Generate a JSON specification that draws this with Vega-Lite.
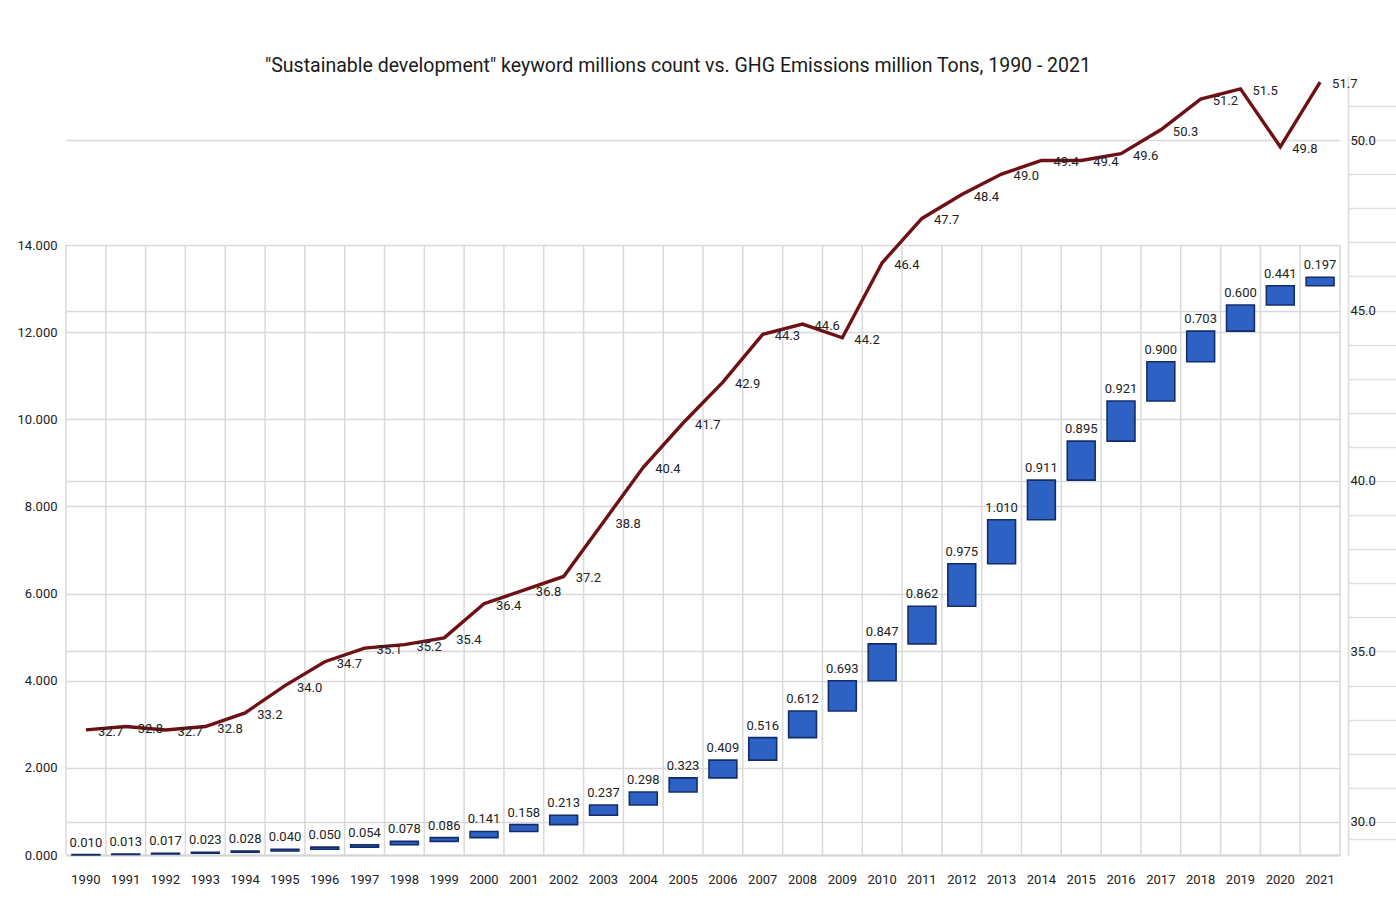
{
  "$schema": "https://vega.github.io/schema/vega-lite/v6.json",
  "width": 1274,
  "height": 779,
  "autosize": {"type": "none"},
  "padding": {"left": 66, "top": 76, "right": 56, "bottom": 43},
  "background": "white",
  "config": {
    "font": "Roboto",
    "view": {"stroke": null},
    "text": {"font": "Roboto"}
  },
  "title": {
    "text": "\"Sustainable development\" keyword millions count vs. GHG Emissions million Tons, 1990 - 2021",
    "font": "Roboto",
    "fontSize": 19.5,
    "fontWeight": "normal",
    "color": "#1a1a1a",
    "anchor": "middle",
    "dx": -25,
    "offset": -1
  },
  "data": {
    "values": [
      {"year": "1990", "inc": 0.010, "prev": 0.000, "total": 0.010, "ghg": 32.7},
      {"year": "1991", "inc": 0.013, "prev": 0.010, "total": 0.023, "ghg": 32.8},
      {"year": "1992", "inc": 0.017, "prev": 0.023, "total": 0.040, "ghg": 32.7},
      {"year": "1993", "inc": 0.023, "prev": 0.040, "total": 0.063, "ghg": 32.8},
      {"year": "1994", "inc": 0.028, "prev": 0.063, "total": 0.091, "ghg": 33.2},
      {"year": "1995", "inc": 0.040, "prev": 0.091, "total": 0.131, "ghg": 34.0},
      {"year": "1996", "inc": 0.050, "prev": 0.131, "total": 0.181, "ghg": 34.7},
      {"year": "1997", "inc": 0.054, "prev": 0.181, "total": 0.235, "ghg": 35.1},
      {"year": "1998", "inc": 0.078, "prev": 0.235, "total": 0.313, "ghg": 35.2},
      {"year": "1999", "inc": 0.086, "prev": 0.313, "total": 0.399, "ghg": 35.4},
      {"year": "2000", "inc": 0.141, "prev": 0.399, "total": 0.540, "ghg": 36.4},
      {"year": "2001", "inc": 0.158, "prev": 0.540, "total": 0.698, "ghg": 36.8},
      {"year": "2002", "inc": 0.213, "prev": 0.698, "total": 0.911, "ghg": 37.2},
      {"year": "2003", "inc": 0.237, "prev": 0.911, "total": 1.148, "ghg": 38.8},
      {"year": "2004", "inc": 0.298, "prev": 1.148, "total": 1.446, "ghg": 40.4},
      {"year": "2005", "inc": 0.323, "prev": 1.446, "total": 1.769, "ghg": 41.7},
      {"year": "2006", "inc": 0.409, "prev": 1.769, "total": 2.178, "ghg": 42.9},
      {"year": "2007", "inc": 0.516, "prev": 2.178, "total": 2.694, "ghg": 44.3},
      {"year": "2008", "inc": 0.612, "prev": 2.694, "total": 3.306, "ghg": 44.6},
      {"year": "2009", "inc": 0.693, "prev": 3.306, "total": 3.999, "ghg": 44.2},
      {"year": "2010", "inc": 0.847, "prev": 3.999, "total": 4.846, "ghg": 46.4},
      {"year": "2011", "inc": 0.862, "prev": 4.846, "total": 5.708, "ghg": 47.7},
      {"year": "2012", "inc": 0.975, "prev": 5.708, "total": 6.683, "ghg": 48.4},
      {"year": "2013", "inc": 1.010, "prev": 6.683, "total": 7.693, "ghg": 49.0},
      {"year": "2014", "inc": 0.911, "prev": 7.693, "total": 8.604, "ghg": 49.4},
      {"year": "2015", "inc": 0.895, "prev": 8.604, "total": 9.499, "ghg": 49.4},
      {"year": "2016", "inc": 0.921, "prev": 9.499, "total": 10.420, "ghg": 49.6},
      {"year": "2017", "inc": 0.900, "prev": 10.420, "total": 11.320, "ghg": 50.3},
      {"year": "2018", "inc": 0.703, "prev": 11.320, "total": 12.023, "ghg": 51.2},
      {"year": "2019", "inc": 0.600, "prev": 12.023, "total": 12.623, "ghg": 51.5},
      {"year": "2020", "inc": 0.441, "prev": 12.623, "total": 13.064, "ghg": 49.8},
      {"year": "2021", "inc": 0.197, "prev": 13.064, "total": 13.261, "ghg": 51.7}
    ]
  },
  "layer": [
    {
      "layer": [
        {
          "mark": {"type": "bar", "width": {"band": 0.7}, "fill": "#2d62c4", "stroke": "#142d6a", "strokeWidth": 1.6},
          "encoding": {
            "x": {
              "field": "year",
              "type": "ordinal",
              "scale": {"paddingInner": 0, "paddingOuter": 0},
              "axis": {
                "title": null,
                "labelAngle": 0,
                "ticks": false,
                "labelPadding": 18,
                "labelFontSize": 13,
                "labelColor": "#222222",
                "domainColor": "#d4d4d4",
                "domainWidth": 2,
                "grid": false
              }
            },
            "y": {
              "field": "prev",
              "type": "quantitative",
              "scale": {"domain": [0, 17.879], "nice": false},
              "axis": {
                "title": null,
                "values": [0, 2, 4, 6, 8, 10, 12, 14],
                "format": ".3f",
                "grid": true,
                "gridColor": "#d9d9d9",
                "gridWidth": 1.5,
                "domain": false,
                "ticks": false,
                "labelPadding": 9,
                "labelFontSize": 13,
                "labelColor": "#222222"
              }
            },
            "y2": {"field": "total"}
          }
        },
        {
          "mark": {"type": "rule", "color": "#d9d9d9", "strokeWidth": 1.5},
          "encoding": {
            "x": {"field": "year", "type": "ordinal", "bandPosition": 0},
            "y": {"datum": 0, "type": "quantitative"},
            "y2": {"datum": 14}
          }
        },
        {
          "transform": [{"filter": "datum.year === '2021'"}],
          "mark": {"type": "rule", "color": "#d9d9d9", "strokeWidth": 1.5},
          "encoding": {
            "x": {"field": "year", "type": "ordinal", "bandPosition": 1},
            "y": {"datum": 0, "type": "quantitative"},
            "y2": {"datum": 14}
          }
        },
        {
          "mark": {"type": "text", "baseline": "bottom", "dy": -5, "fontSize": 13, "color": "#222222"},
          "encoding": {
            "x": {"field": "year", "type": "ordinal"},
            "y": {"field": "total", "type": "quantitative"},
            "text": {"field": "inc", "type": "quantitative", "format": ".3f"}
          }
        }
      ]
    },
    {
      "layer": [
        {
          "mark": {"type": "line", "color": "#6e1014", "strokeWidth": 3.4},
          "encoding": {
            "x": {"field": "year", "type": "ordinal"},
            "y": {
              "field": "ghg",
              "type": "quantitative",
              "scale": {"domain": [29.032, 51.877], "nice": false, "zero": false},
              "axis": {
                "title": null,
                "orient": "right",
                "values": [29.5, 30, 31, 32, 33, 34, 35, 36, 37, 38, 39, 40, 41, 42, 43, 44, 45, 46, 47, 48, 49, 50, 51],
                "tickCount": 60,
                "labelExpr": "datum.value % 5 === 0 ? format(datum.value, '.1f') : ''",
                "labelOverlap": false,
                "labelBound": false,
                "grid": true,
                "gridColor": "#d9d9d9",
                "gridWidth": 1.5,
                "gridOpacity": {"condition": {"test": "datum.value % 5 === 0", "value": 1}, "value": 0},
                "offset": 8,
                "domainColor": "#dcdcdc",
                "domainWidth": 1.5,
                "tickSize": 48,
                "tickColor": "#e0e0e0",
                "tickWidth": 1.5,
                "labelPadding": -46,
                "labelFontSize": 13,
                "labelColor": "#222222"
              }
            }
          }
        },
        {
          "mark": {"type": "text", "align": "left", "baseline": "middle", "dx": 12, "dy": 2, "fontSize": 13, "color": "#222222"},
          "encoding": {
            "x": {"field": "year", "type": "ordinal"},
            "y": {"field": "ghg", "type": "quantitative"},
            "text": {"field": "ghg", "type": "quantitative", "format": ".1f"}
          }
        }
      ]
    }
  ],
  "resolve": {"scale": {"y": "independent"}}
}
